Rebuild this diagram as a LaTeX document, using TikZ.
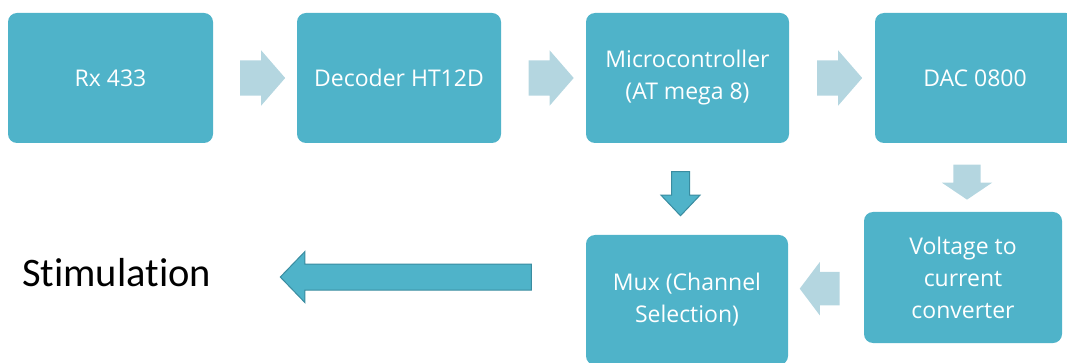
\documentclass[tikz,border=0pt]{standalone}
\usepackage{fontspec}
\setmainfont{Open Sans}
\newfontfamily\stimfont[Ligatures=NoCommon]{Carlito}
\usetikzlibrary{shapes.arrows, positioning, calc}

\definecolor{boxteal}{HTML}{4FB3C9}
\definecolor{arrowlight}{HTML}{B4D6E0}
\definecolor{arrowedge}{HTML}{3A8CA0}

\begin{document}
\begin{tikzpicture}[
    x=1pt, y=-1pt,
    block/.style={rectangle, rounded corners=9pt, fill=boxteal, text=white, minimum width=204pt, minimum height=130pt, inner sep=0pt, align=center, font=\fontsize{23}{32}\selectfont},
    flow/.style={single arrow, fill=arrowlight, inner xsep=0pt, inner ysep=17.5pt, minimum height=45pt, minimum width=55pt, single arrow head extend=10pt, single arrow tip angle=98},
    flowdown/.style={flow, inner ysep=13.5pt, minimum height=35pt, minimum width=50pt, single arrow head extend=11.5pt, single arrow tip angle=112, rotate=-90},
    flowleft/.style={flow, inner ysep=16.5pt, minimum height=40pt, minimum width=53pt, single arrow head extend=10pt, single arrow tip angle=106, rotate=180},
    flowdark/.style={flow, fill=boxteal, draw=arrowedge, line width=1pt, inner ysep=8.5pt, minimum height=44pt, minimum width=38pt, single arrow head extend=10.5pt, single arrow tip angle=87, rotate=-90},
    output/.style={flow, fill=boxteal, draw=arrowedge, line width=1pt, inner ysep=12.5pt, minimum height=251pt, minimum width=50pt, single arrow head extend=12.5pt, single arrow tip angle=92, rotate=180}
]
\useasboundingbox (0,0) rectangle (1067,363);

% Top row
\node[block, minimum width=205pt] (rx) at (110.5,78) {Rx 433};
\node[block] (dec) at (399,78) {Decoder HT12D};
\node[block, minimum width=203pt] (mcu) at (687.5,78) {Microcontroller\\(AT mega 8)};
\node[block, minimum width=200pt] (dac) at (975,78) {DAC 0800};

% Bottom row
\node[block, minimum width=198pt, minimum height=131pt] (volt) at (963,277.5) {Voltage to\\current\\converter};
\node[block, minimum width=202pt] (mux) at (687,300) {Mux (Channel\\Selection)};
\node[font=\stimfont\fontsize{40.5}{48}\selectfont, anchor=base west, inner sep=0pt] (stim) at (22,286) {Stimulation};

% Block arrows
\path (rx) -- node[flow] {} (dec);
\path (dec) -- node[flow] {} (mcu);
\path (mcu) -- node[flow] {} (dac);
\path ([xshift=-8pt]dac.south) -- node[flowdown] {} ([xshift=-8pt]dac.south |- volt.north);
\path (volt) -- node[flowleft] {} (mux);
\path ([xshift=-7pt]mcu.south) -- node[flowdark] {} ([xshift=-7pt]mcu.south |- mux.north);
\path (mux.west |- 0,277) -- node[output] {} ([shift={(27pt,-5pt)}]stim.east);

\end{tikzpicture}
\end{document}
